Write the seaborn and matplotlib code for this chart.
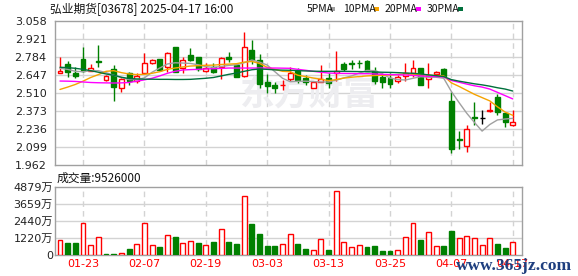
import numpy as np
import pandas as pd
import matplotlib
matplotlib.use("Agg")
import matplotlib.pyplot as plt
import seaborn as sns
from matplotlib.patches import Rectangle

# ---------------- data ----------------
dates = ["01-20", "01-21", "01-22", "01-23", "01-24", "01-27", "01-28",
         "02-03", "02-04", "02-05", "02-06", "02-07", "02-10", "02-11", "02-12",
         "02-13", "02-14", "02-17", "02-18", "02-19", "02-20", "02-21", "02-24",
         "02-25", "02-26", "02-27", "02-28", "03-03", "03-04", "03-05", "03-06",
         "03-07", "03-10", "03-11", "03-12", "03-13", "03-14", "03-17", "03-18",
         "03-19", "03-20", "03-21", "03-24", "03-25", "03-26", "03-27", "03-28",
         "03-31", "04-01", "04-02", "04-03", "04-07", "04-08", "04-09", "04-10",
         "04-11", "04-14", "04-15", "04-16", "04-17"]
shown_dates = ["01-23", "02-07", "02-19", "03-03", "03-13", "03-25", "04-07", "04-17"]

open_ = [2.664, 2.733, 2.662, 2.769, 2.680, 2.755, 2.607, 2.690, 2.546, 2.660,
         2.605, 2.660, 2.736, 2.769, 2.706, 2.858, 2.698, 2.802, 2.782, 2.678,
         2.711, 2.706, 2.786, 2.723, 2.642, 2.837, 2.761, 2.592, 2.569, 2.568,
         2.614, 2.674, 2.627, 2.550, 2.596, 2.627, 2.664, 2.733, 2.738, 2.742,
         2.754, 2.678, 2.635, 2.627, 2.605, 2.636, 2.665, 2.698, 2.614, 2.655,
         2.693, 2.449, 2.160, 2.104, 2.330, 2.318, 2.373, 2.482, 2.356, 2.264]
high = [2.786, 2.751, 2.706, 2.860, 2.731, 2.873, 2.645, 2.723, 2.625, 2.668,
        2.660, 2.817, 2.770, 2.772, 2.820, 2.860, 2.786, 2.853, 2.785, 2.736,
        2.736, 2.782, 2.824, 2.731, 2.972, 2.913, 2.810, 2.652, 2.594, 2.611,
        2.710, 2.698, 2.647, 2.597, 2.723, 2.660, 2.830, 2.746, 2.761, 2.761,
        2.760, 2.706, 2.660, 2.660, 2.647, 2.738, 2.761, 2.700, 2.736, 2.675,
        2.700, 2.518, 2.221, 2.267, 2.444, 2.384, 2.442, 2.500, 2.360, 2.381]
low = [2.660, 2.630, 2.624, 2.668, 2.675, 2.706, 2.605, 2.451, 2.520, 2.568,
       2.585, 2.652, 2.730, 2.680, 2.668, 2.670, 2.665, 2.750, 2.680, 2.670,
       2.660, 2.614, 2.744, 2.630, 2.635, 2.731, 2.550, 2.510, 2.508, 2.535,
       2.605, 2.584, 2.571, 2.547, 2.590, 2.546, 2.598, 2.680, 2.693, 2.703,
       2.675, 2.578, 2.550, 2.546, 2.588, 2.605, 2.632, 2.568, 2.546, 2.647,
       2.640, 2.056, 2.080, 2.061, 2.267, 2.274, 2.362, 2.343, 2.251, 2.262]
close = [2.676, 2.670, 2.640, 2.675, 2.700, 2.745, 2.642, 2.553, 2.620, 2.598,
         2.640, 2.736, 2.761, 2.683, 2.812, 2.672, 2.761, 2.764, 2.695, 2.698,
         2.672, 2.779, 2.767, 2.634, 2.858, 2.761, 2.576, 2.560, 2.550, 2.573,
         2.665, 2.611, 2.592, 2.595, 2.614, 2.589, 2.678, 2.693, 2.731, 2.737,
         2.681, 2.603, 2.594, 2.575, 2.628, 2.660, 2.698, 2.571, 2.640, 2.672,
         2.643, 2.080, 2.152, 2.234, 2.318, 2.318, 2.384, 2.369, 2.286, 2.289]
volume_wan = [1076, 885, 885, 2272, 718, 1292, 72, 72, 144, 454,
              765, 2272, 718, 598, 1435, 1292, 837, 1005, 885, 718,
              933, 1866, 933, 789, 4234, 2225, 1507, 646, 646, 765,
              1483, 789, 431, 335, 1124, 359, 4593, 909, 574, 694,
              574, 646, 287, 287, 359, 1268, 2272, 1076, 1627, 622,
              646, 1722, 1196, 1340, 1220, 694, 1196, 789, 526, 952.6]

ma5 = [2.698, 2.690, 2.675, 2.672, 2.680, 2.680, 2.665, 2.645, 2.628, 2.612,
       2.612, 2.625, 2.668, 2.700, 2.731, 2.740, 2.738, 2.735, 2.725, 2.711,
       2.705, 2.712, 2.720, 2.725, 2.740, 2.761, 2.745, 2.723, 2.672, 2.622,
       2.596, 2.599, 2.600, 2.597, 2.594, 2.594, 2.608, 2.625, 2.640, 2.662,
       2.682, 2.680, 2.655, 2.624, 2.612, 2.609, 2.622, 2.634, 2.630, 2.630,
       2.622, 2.521, 2.437, 2.356, 2.286, 2.220, 2.270, 2.305, 2.312, 2.317]
ma10 = [2.537, 2.555, 2.575, 2.600, 2.628, 2.650, 2.675, 2.680, 2.665, 2.655,
        2.650, 2.652, 2.660, 2.672, 2.690, 2.700, 2.708, 2.715, 2.718, 2.721,
        2.722, 2.727, 2.730, 2.733, 2.745, 2.750, 2.735, 2.705, 2.690, 2.675,
        2.672, 2.645, 2.635, 2.624, 2.615, 2.604, 2.612, 2.624, 2.630, 2.635,
        2.640, 2.643, 2.645, 2.647, 2.651, 2.655, 2.652, 2.648, 2.645, 2.643,
        2.640, 2.587, 2.560, 2.530, 2.500, 2.475, 2.450, 2.405, 2.365, 2.340]
ma20 = [2.601, 2.600, 2.598, 2.594, 2.590, 2.588, 2.587, 2.586, 2.587, 2.590,
        2.600, 2.610, 2.622, 2.640, 2.660, 2.675, 2.685, 2.688, 2.690, 2.693,
        2.695, 2.697, 2.700, 2.700, 2.700, 2.700, 2.700, 2.700, 2.700, 2.699,
        2.698, 2.690, 2.683, 2.675, 2.668, 2.662, 2.660, 2.659, 2.658, 2.657,
        2.657, 2.655, 2.652, 2.650, 2.649, 2.647, 2.644, 2.640, 2.637, 2.635,
        2.632, 2.605, 2.592, 2.578, 2.565, 2.555, 2.540, 2.515, 2.490, 2.465]
ma30 = [2.706, 2.703, 2.698, 2.690, 2.680, 2.668, 2.655, 2.645, 2.630, 2.620,
        2.617, 2.615, 2.615, 2.614, 2.614, 2.613, 2.613, 2.614, 2.618, 2.622,
        2.628, 2.640, 2.652, 2.662, 2.675, 2.687, 2.693, 2.690, 2.686, 2.684,
        2.683, 2.680, 2.678, 2.676, 2.675, 2.675, 2.675, 2.675, 2.674, 2.673,
        2.672, 2.670, 2.668, 2.667, 2.665, 2.662, 2.660, 2.655, 2.648, 2.642,
        2.635, 2.612, 2.600, 2.590, 2.580, 2.572, 2.562, 2.550, 2.540, 2.525]

price_ticks = ["1.962", "2.099", "2.236", "2.373", "2.510", "2.647", "2.784", "2.921", "3.058"]
vol_ticks = ["0", "1220万", "2440万", "3659万", "4879万"]
title = "弘业期货[03678] 2025-04-17 16:00"
vol_title = "成交量:9526000"
ma_names = ["5PMA", "10PMA", "20PMA", "30PMA"]

# ---------------- style ----------------
RED = "#ff0000"
GREEN = "#008000"
MA_COLORS = {"5PMA": "#a0a0a0", "10PMA": "#f5a300", "20PMA": "#ff00ff", "30PMA": "#00703c"}
GRID = "#d3d3d3"
FRAME = "#a0a0a0"
CJK = ["Noto Sans CJK SC", "DejaVu Sans"]
NARROW = ["Liberation Sans Narrow", "Noto Sans CJK SC", "DejaVu Sans"]

sns.set_theme(style="white")
plt.rcParams["font.family"] = ["DejaVu Sans", "Noto Sans CJK SC"]

W, H = 578, 276
fig = plt.figure(figsize=(W / 100, H / 100), dpi=100)
fig.patch.set_facecolor("white")


def fx(px):
    return px / W


def fy(py):
    return 1 - py / H


ax = fig.add_axes([fx(55), fy(165), fx(522) - fx(55), fy(21) - fy(165)])
axv = fig.add_axes([fx(55), fy(255), fx(522) - fx(55), fy(187) - fy(255)])

n = len(close)
idx = np.arange(n)
xlim = (-0.65, n + 0.2)
label_pos = [dates.index(d) for d in shown_dates]

# ---------------- price panel ----------------
pvals = [float(t) for t in price_ticks]
ax.set_xlim(*xlim)
ax.set_ylim(pvals[0], pvals[-1])
ax.set_yticks(pvals)
ax.set_yticklabels(price_ticks)
ax.set_xticks(label_pos)
ax.set_xticklabels([])
for v in pvals[1:-1]:
    ax.axhline(v, color=GRID, lw=1, zorder=0.5)
for p in label_pos:
    ax.axvline(p, color=GRID, lw=1, ls=(0, (4, 3)), zorder=0.5)

ax.text(0.545, 0.49, "东方财富", transform=ax.transAxes, ha="center", va="center",
        fontsize=25, fontweight="bold", color="#ededf0", family=CJK, zorder=0.6)

bw = 0.64
for i in range(n):
    o, h, l, c = open_[i], high[i], low[i], close[i]
    if c > o:
        col = RED
    elif c < o:
        col = GREEN
    else:
        col = "#000000"
    ax.vlines(i, l, h, color=col, lw=1, zorder=2)
    if c > o:
        ax.add_patch(Rectangle((i - bw / 2, o), bw, c - o, facecolor="white",
                               edgecolor=col, lw=1, zorder=3))
    elif c < o:
        ax.add_patch(Rectangle((i - bw / 2, c), bw, o - c, facecolor=col,
                               edgecolor=col, lw=1, zorder=3))
    else:
        ax.hlines(o, i - bw / 2, i + bw / 2, color=col, lw=1, zorder=3)

ma_df = pd.DataFrame({"idx": idx, "5PMA": ma5, "10PMA": ma10, "20PMA": ma20, "30PMA": ma30})
ma_long = ma_df.melt(id_vars="idx", var_name="ma", value_name="val")
sns.lineplot(data=ma_long, x="idx", y="val", hue="ma", hue_order=ma_names,
             palette=MA_COLORS, lw=1, legend=False, ax=ax, zorder=4)
ax.set_xlim(*xlim)
ax.set_xlabel("")
ax.set_ylabel("")

# ---------------- volume panel ----------------
vmax = float(vol_ticks[-1].replace("万", ""))
axv.set_xlim(*xlim)
axv.set_ylim(0, vmax)
vt = [vmax * k / 4 for k in range(5)]
axv.set_yticks(vt)
axv.set_yticklabels(vol_ticks)
for v in vt[1:-1]:
    axv.axhline(v, color=GRID, lw=1, zorder=0.5)
for p in label_pos:
    axv.axvline(p, color=GRID, lw=1, ls=(0, (4, 3)), zorder=0.5)
for i in range(n):
    up = True if i == 0 else close[i] >= close[i - 1]
    if up:
        axv.bar(i, volume_wan[i], width=bw, facecolor="white", edgecolor=RED, lw=1, zorder=3)
    else:
        axv.bar(i, volume_wan[i], width=bw, facecolor=GREEN, edgecolor=GREEN, lw=1, zorder=3)
axv.set_xticks(label_pos)
axv.set_xticklabels(shown_dates)

# ---------------- axes cosmetics ----------------
for a in (ax, axv):
    a.grid(False)
    for s in a.spines.values():
        s.set_color(FRAME)
        s.set_linewidth(1)
    a.tick_params(axis="both", length=0)
ax.tick_params(axis="y", pad=6, labelsize=8, labelcolor="#222222")
axv.tick_params(axis="y", pad=1.5, labelsize=8, labelcolor="#222222")
axv.tick_params(axis="x", pad=3, labelsize=8, labelcolor=RED)
for t in axv.get_yticklabels():
    t.set_family(["DejaVu Sans", "Noto Sans CJK SC"])

# ---------------- header texts ----------------
fig.text(fx(50), fy(9), title, ha="left", va="center", fontsize=8.5, family=CJK, color="#111111")
fig.text(fx(57), fy(178), vol_title, ha="left", va="center", fontsize=8.5, family=CJK, color="#111111")

leg_x = [307, 343, 385, 427]
sq_x = [330, 374, 416, 458]
for name, lx, sx in zip(ma_names, leg_x, sq_x):
    fig.text(fx(lx), fy(9), name, ha="left", va="center", fontsize=7.5, family=NARROW, color="#111111")
    fig.patches.append(Rectangle((fx(sx), fy(11)), fx(5), 4 / H, transform=fig.transFigure,
                                 facecolor=MA_COLORS[name], edgecolor="none", figure=fig))

fig.text(fx(456), fy(266), "www.365jz.com", ha="left", va="center", fontsize=12.5,
         family=["Liberation Serif", "DejaVu Serif"], fontweight="bold", color="#1f3f7f")

fig.savefig("out.png", dpi=100)
